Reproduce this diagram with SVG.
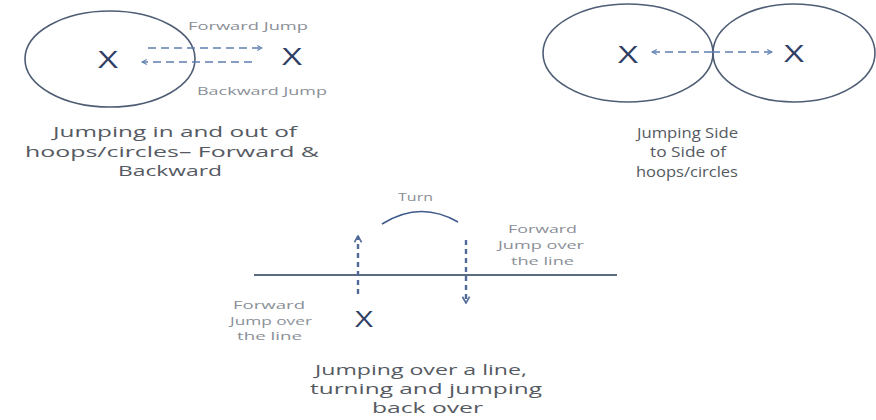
<svg xmlns="http://www.w3.org/2000/svg" width="876" height="420" viewBox="0 0 876 420">
<defs>
<style>
.hoop{fill:none;stroke:#4e5d74;stroke-width:1.6}
.x{font-family:"Open Sans","Liberation Sans",sans-serif;fill:#2e3e64;font-size:24px}
.lbl{font-family:"Open Sans","Liberation Sans",sans-serif;fill:#8a8f98;font-size:11px}
.cap{font-family:"Open Sans","Liberation Sans",sans-serif;fill:#555a62;font-size:14.5px}
.dash{fill:none;stroke:#5f7fb0;stroke-width:1.6;stroke-dasharray:8 5}
.vdash{fill:none;stroke:#4f6a98;stroke-width:2.4;stroke-dasharray:5 4}
.line{stroke:#5b6b82;stroke-width:2;fill:none}
.arc{stroke:#3f5b8c;stroke-width:1.6;fill:none}
</style>
<marker id="ah" viewBox="0 0 10 10" refX="9" refY="5" markerWidth="6" markerHeight="6" orient="auto-start-reverse" markerUnits="userSpaceOnUse">
<path d="M1,1 L9,5 L1,9" fill="none" stroke="#5f7fb0" stroke-width="1.8"/>
</marker>
<marker id="ahv" viewBox="0 0 10 10" refX="9" refY="5" markerWidth="9" markerHeight="9" orient="auto-start-reverse" markerUnits="userSpaceOnUse">
<path d="M2,1 L9,5 L2,9" fill="none" stroke="#4f6a98" stroke-width="1.8"/>
</marker>
</defs>
<rect width="876" height="420" fill="#ffffff"/>

<g id="hoop-forward-backward">
<ellipse class="hoop" cx="110" cy="59" rx="85" ry="48"/>
<text class="x" x="98" y="68" textLength="20" lengthAdjust="spacingAndGlyphs">X</text>
<text class="x" x="282" y="65" textLength="20" lengthAdjust="spacingAndGlyphs">X</text>
<text class="lbl" x="188" y="30" textLength="120" lengthAdjust="spacingAndGlyphs">Forward Jump</text>
<text class="lbl" x="197" y="95" textLength="130" lengthAdjust="spacingAndGlyphs">Backward Jump</text>
<text class="cap" x="53" y="137" textLength="244" lengthAdjust="spacingAndGlyphs">Jumping in and out of</text>
<text class="cap" x="25" y="157" textLength="294" lengthAdjust="spacingAndGlyphs">hoops/circles– Forward &amp;</text>
<text class="cap" x="118" y="176" textLength="104" lengthAdjust="spacingAndGlyphs">Backward</text>
</g>

<g id="hoop-side-to-side">
<ellipse class="hoop" cx="628" cy="53" rx="85" ry="49"/>
<ellipse class="hoop" cx="794" cy="53" rx="81" ry="49"/>
<text class="x" x="618" y="63" textLength="20" lengthAdjust="spacingAndGlyphs">X</text>
<text class="x" x="784" y="62" textLength="20" lengthAdjust="spacingAndGlyphs">X</text>
<text class="cap" x="637" y="138" textLength="101" lengthAdjust="spacingAndGlyphs">Jumping Side</text>
<text class="cap" x="650" y="157" textLength="76" lengthAdjust="spacingAndGlyphs">to Side of</text>
<text class="cap" x="636" y="177" textLength="102" lengthAdjust="spacingAndGlyphs">hoops/circles</text>
</g>

<g id="line-jump">
<line class="line" x1="254" y1="275" x2="617" y2="275"/>
<text class="x" x="355" y="327" textLength="18" lengthAdjust="spacingAndGlyphs" style="font-size:21px">X</text>
<text class="lbl" x="398" y="201" textLength="35" lengthAdjust="spacingAndGlyphs" style="font-size:10px">Turn</text>
<text class="lbl" x="508" y="233" textLength="69" lengthAdjust="spacingAndGlyphs">Forward</text>
<text class="lbl" x="498" y="249" textLength="86" lengthAdjust="spacingAndGlyphs">Jump over</text>
<text class="lbl" x="511" y="265" textLength="63" lengthAdjust="spacingAndGlyphs">the line</text>
<text class="lbl" x="233" y="309" textLength="72" lengthAdjust="spacingAndGlyphs">Forward</text>
<text class="lbl" x="230" y="325" textLength="82" lengthAdjust="spacingAndGlyphs">Jump over</text>
<text class="lbl" x="237" y="340" textLength="65" lengthAdjust="spacingAndGlyphs">the line</text>
<text class="cap" x="315" y="375" textLength="212" lengthAdjust="spacingAndGlyphs">Jumping over a line,</text>
<text class="cap" x="310" y="394" textLength="232" lengthAdjust="spacingAndGlyphs">turning and jumping</text>
<text class="cap" x="372" y="413" textLength="111" lengthAdjust="spacingAndGlyphs">back over</text>
</g>

<g id="connectors">
<line class="dash" x1="148" y1="48" x2="262" y2="48" marker-end="url(#ah)"/>
<line class="dash" x1="252" y1="62" x2="142" y2="62" marker-end="url(#ah)"/>
<line class="dash" x1="712" y1="52" x2="652" y2="52" marker-end="url(#ah)"/>
<line class="dash" x1="712" y1="52" x2="772" y2="52" marker-end="url(#ah)"/>
<line class="vdash" x1="358" y1="294" x2="358" y2="236" marker-end="url(#ahv)"/>
<line class="vdash" x1="466" y1="240" x2="466" y2="303" marker-end="url(#ahv)"/>
<path class="arc" d="M382,224 Q420,200 458,222"/>
</g>
</svg>
